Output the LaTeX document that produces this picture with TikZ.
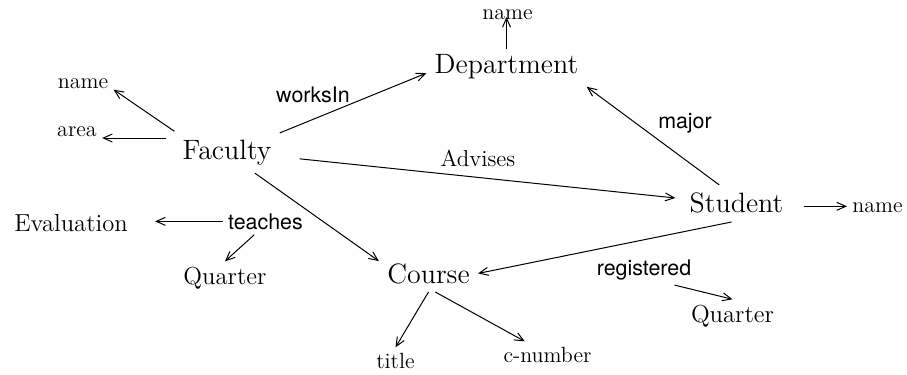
\documentclass[tikz,border=0pt]{standalone}
\usepackage{fontspec}
\newfontfamily\relfont{TeX Gyre Heros}
\usepackage{tikz}
\usetikzlibrary{arrows.meta, calc}

\begin{document}
\begin{tikzpicture}[x=0.5pt, y=-0.5pt]
			\tikzset{arrow/.style={-{Straight Barb[length=4.5pt, width=4pt]}, line width=0.5pt}}
			\tikzset{ent/.style={anchor=base, inner sep=4pt, font=\fontsize{14}{16}\selectfont}}
			\tikzset{attr/.style={anchor=base, inner sep=2.5pt, font=\fontsize{11}{13}\selectfont}}
			\tikzset{attrbig/.style={anchor=base, inner sep=2.5pt, font=\fontsize{12.3}{14}\selectfont}}
			\tikzset{rel/.style={anchor=base, inner sep=2.5pt, font=\relfont\fontsize{10.7}{12}\selectfont}}

			\useasboundingbox (0,0) rectangle (907,375);

			% entities
			\node (dep) [ent] at (506.5,73) {Department};
			\node (fac) [ent] at (227,159) {Faculty};
			\node (stu) [ent] at (736.5,213) {Student};
			\node (course) [ent] at (428.5,283) {Course};

			% attributes
			\node (depname) [attr] at (507.5,19) {name};
			\node (facname) [attr] at (83,89) {name};
			\node (area) [attr] at (77,136) {area};
			\node (stuname) [attr] at (877.5,213) {name};
			\node (title) [attr] at (395.5,368) {title};
			\node (cnum) [attr] at (547.5,362) {c-number};
			\node (eval) [attrbig] at (71,231) {Evaluation};
			\node (quarterA) [attrbig] at (225,284) {Quarter};
			\node (quarterB) [attrbig] at (732.5,322) {Quarter};

			% relationships
			\node (teaches) [rel] at (265.5,229) {teaches};
			\node (registered) [rel] at (644,275) {registered};
			\node (worksin) [rel] at (313,102) {worksIn};
			\node (major) [rel] at (685,128) {major};
			\node (advises) [attr, font=\fontsize{11.5}{13}\selectfont] at (478,166) {Advises};

			\draw[arrow, shorten <=-2pt, shorten >=-1pt] (dep.north) -- (dep.north |- depname.base);
			\draw[arrow] (fac.north west) -- (facname.-10);
			\draw[arrow, shorten <=4pt] (fac.165) -- (fac.165 -| area.east);
			\draw[arrow] (fac.20) -- (dep.185);
			\draw[arrow, shorten <=10pt, shorten >=3pt] (fac.-5) -- (stu.175);
			\draw[arrow] (fac.-37) -- (course.166);
			\draw[arrow] (stu.133) -- (dep.south east);
			\draw[arrow] (stu.-105) -- (course.east);
			\draw[arrow, shorten <=6pt] (stu.-3) -- (stu.-3 -| stuname.west);
			\draw[arrow] (course.south) -- (title.north);
			\draw[arrow] (course.-70) -- (cnum.150);
			\draw[arrow, shorten >=11pt] (teaches.west) -- (teaches.west -| eval.east);
			\draw[arrow] (teaches.-130) -- (quarterA.north);
			\draw[arrow] (registered.-27) -- (quarterB.north);

\end{tikzpicture}
\end{document}
